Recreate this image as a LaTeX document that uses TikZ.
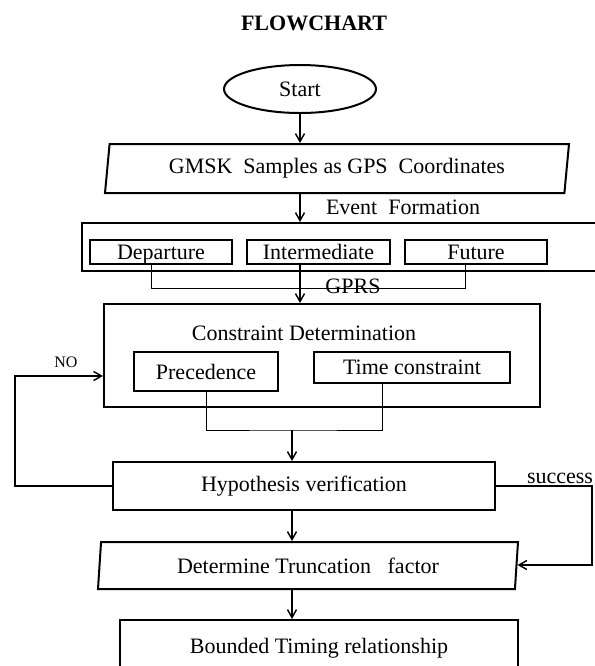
\documentclass[tikz,border=0pt]{standalone}
\usepackage{fontspec}
\setmainfont{Liberation Serif}
\usetikzlibrary{arrows.meta, calc, positioning, shapes.geometric}

\begin{document}
\begin{tikzpicture}[x=0.5pt, y=-0.5pt,
  every node/.style={font=\fontsize{11}{13}\selectfont, inner sep=0pt},
  box/.style={draw, line width=1pt, rectangle},
  slant/.style={draw, line width=1pt, trapezium, trapezium stretches body=true},
  evbox/.style={box, minimum height=12pt, text depth=0pt},
  line/.style={line width=0.5pt},
  arrow/.style={line width=0.7pt, -{Straight Barb[length=4pt, width=4.5pt]}}]
\useasboundingbox (0,0) rectangle (595,666);
\coordinate (axis) at (300,0);
\coordinate (join) at (292,430);
\coordinate (noturn) at (15,376);
\coordinate (sturn) at (592,565);
\node[font=\fontsize{11}{13}\selectfont\bfseries] (title) at (314,23) {FLOWCHART};
\node[box, ellipse, minimum width=76pt, minimum height=24pt] (start) at (300,89) {Start};
\node[slant, trapezium left angle=77, trapezium right angle=103, minimum width=232pt, minimum height=24.5pt] (gmsk) at (337,168.5) {GMSK\ \ Samples as GPS\ \ Coordinates};
\node (evlabel) at (403,207) {Event\ \ Formation};
\node[box, minimum width=259pt, minimum height=24pt] (events) at (341,247) {};
\node[evbox, minimum width=71pt] (dep) at (161,252) {Departure};
\node[evbox, minimum width=71.5pt] (inter) at (318.5,252) {Intermediate};
\node[evbox, minimum width=71pt] (fut) at (476,252) {Future};
\node (gprs) at (353,286) {GPRS};
\node[box, minimum width=218pt, minimum height=51.5pt] (constr) at (322,355.5) {};
\node (ctitle) at (304,333) {Constraint Determination};
\node[box, minimum width=72pt, minimum height=19.5pt] (prec) at (206,371.5) {Precedence};
\node[box, minimum width=98pt, minimum height=15.5pt] (tcon) at (412,367.5) {Time constraint};
\node[font=\fontsize{8}{10}\selectfont] (no) at (66,362) {NO};
\node[box, minimum width=191pt, minimum height=24pt] (hyp) at (304,486) {Hypothesis verification};
\node (succ) at (560,478) {success};
\node[slant, trapezium left angle=79, trapezium right angle=101, minimum width=210pt, minimum height=23.5pt] (trunc) at (308,565.5) {Determine Truncation\ \ \ factor};
\node[box, minimum width=199pt, minimum height=28pt] (bound) at (319,648) {Bounded Timing relationship};
% connectors
\draw[arrow] (start) -- (start |- gmsk.north);
\draw[arrow] (axis |- gmsk.south) -- (axis |- events.north);
\draw[line] ($(dep.south)+(-10,0)$) -- ++(0,23) -| ($(fut.south)+(-11,0)$);
\draw[arrow] (axis |- inter.south) -- (axis |- constr.north);
\draw[line] (prec.south) |- (join) -| ($(tcon.south)+(-30,0)$);
\draw[arrow] (join) -- (join |- hyp.north);
\draw[arrow] (hyp.west) -| (noturn) -- (noturn -| constr.west);
\draw[arrow] (hyp.east) -| (sturn) -- (sturn -| trunc.east);
\draw[arrow] (join |- hyp.south) -- (join |- trunc.north);
\draw[arrow] (join |- trunc.south) -- (join |- bound.north);
\end{tikzpicture}
\end{document}
